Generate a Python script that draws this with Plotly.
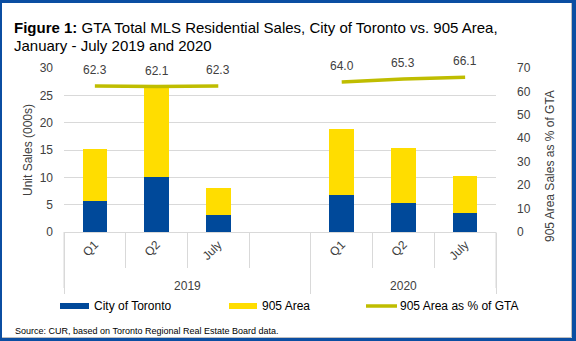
import plotly.graph_objects as go

# Reporting periods, grouped by year (blank slot separates the two years)
years = ["2019", "2019", "2019", "2019", "2020", "2020", "2020"]
periods = ["Q1", "Q2", "July", " ", "Q1", "Q2", "July"]

# Unit sales (000s)
toronto = [5.75, 10.0, 3.05, None, 6.8, 5.3, 3.5]
area_905 = [9.5, 16.4, 5.05, None, 12.1, 10.0, 6.8]

# 905 Area share of GTA sales (%)
share_905 = [62.3, 62.1, 62.3, None, 64.0, 65.3, 66.1]

NAVY = "#00499A"
GOLD = "#FFDD00"
OLIVE = "#BFBD00"
FRAME = "#0B4EA2"
GRID = "#D9D9D9"
TXT = "#404040"
FONT = "Liberation Sans, Arial, sans-serif"

W, H = 576, 341
ML, MR, MT, MB = 64, 80, 68, 109
PW, PH = W - ML - MR, H - MT - MB


def px_x(px):
    return (px - ML) / PW


def px_y(py):
    return (H - MB - py) / PH


x = [years, periods]

fig = go.Figure()
fig.add_trace(go.Bar(x=x, y=toronto, name="City of Toronto",
                     marker=dict(color=NAVY, line=dict(width=0))))
fig.add_trace(go.Bar(x=x, y=area_905, name="905 Area",
                     marker=dict(color=GOLD, line=dict(width=0))))
fig.add_trace(go.Scatter(x=x, y=share_905, name="905 Area as % of GTA",
                         yaxis="y2", mode="lines", connectgaps=False,
                         line=dict(color=OLIVE, width=3.5, shape="linear")))

annotations = []
for yr, p, v in zip(years, periods, share_905):
    if v is None:
        continue
    annotations.append(dict(x=[yr, p], y=v, xref="x", yref="y2",
                            text=f"{v:.1f}", showarrow=False, yshift=16,
                            xanchor="center", yanchor="middle",
                            font=dict(size=12, color=TXT, family=FONT)))

# Title, two lines
title_lines = [
    ("<b>Figure 1:</b> GTA Total MLS Residential Sales, City of Toronto vs. 905 Area,", 27.5),
    ("January - July 2019 and 2020", 45),
]
for txt, ty in title_lines:
    annotations.append(dict(
        x=px_x(12), y=px_y(ty), xref="paper", yref="paper",
        xanchor="left", yanchor="middle", align="left", showarrow=False,
        text=txt, font=dict(size=15, color="#000000", family=FONT)))

# Right axis title
annotations.append(dict(
    x=px_x(550), y=px_y(166), xref="paper", yref="paper", textangle=-90,
    xanchor="center", yanchor="middle",
    showarrow=False, text="905 Area Sales as % of GTA",
    font=dict(size=12, color=TXT, family=FONT)))

# Source note
annotations.append(dict(
    x=px_x(13), y=px_y(331), xref="paper", yref="paper",
    xanchor="left", yanchor="middle", showarrow=False,
    text="Source: CUR, based on Toronto Regional Real Estate Board data.",
    font=dict(size=9, color="#000000", family="Liberation Sans Narrow, Arial Narrow, sans-serif")))

# Legend built from swatches and labels
shapes = []
legend_items = [
    ("City of Toronto", NAVY, 60, 89, 92, "bar"),
    ("905 Area", GOLD, 229, 257, 260, "bar"),
    ("905 Area as % of GTA", OLIVE, 366, 397, 398, "line"),
]
LEG_Y = 306
for label, color, x0, x1, tx, kind in legend_items:
    if kind == "bar":
        shapes.append(dict(type="rect", xref="paper", yref="paper",
                           x0=px_x(x0), x1=px_x(x1), y0=px_y(LEG_Y + 3), y1=px_y(LEG_Y - 3),
                           fillcolor=color, line=dict(width=0)))
    else:
        shapes.append(dict(type="line", xref="paper", yref="paper",
                           x0=px_x(x0), x1=px_x(x1), y0=px_y(LEG_Y), y1=px_y(LEG_Y),
                           line=dict(color=color, width=3.5)))
    annotations.append(dict(x=px_x(tx), y=px_y(LEG_Y), xref="paper", yref="paper",
                            xanchor="left", yanchor="middle", showarrow=False, text=label,
                            font=dict(size=12, color="#000000", family=FONT)))

# Outer group dividers at the axis ends
for edge in (0, 1):
    shapes.append(dict(type="line", xref="paper", yref="paper",
                       x0=edge, x1=edge, y0=px_y(232), y1=px_y(288),
                       line=dict(color=GRID, width=1)))

# Outer frame: thin grey inner edge plus blue band
shapes.append(dict(type="line", xref="paper", yref="paper",
                   x0=px_x(571.5), x1=px_x(571.5), y0=px_y(3), y1=px_y(337.5),
                   line=dict(color="#BFBFBF", width=1)))
shapes.append(dict(type="line", xref="paper", yref="paper",
                   x0=px_x(2), x1=px_x(571.5), y0=px_y(337.5), y1=px_y(337.5),
                   line=dict(color="#BFBFBF", width=1)))
for bx0, by0, bx1, by1 in [(0, 0, 2, H), (0, 0, W, 3), (572, 0, W, H), (0, 338, W, H)]:
    shapes.append(dict(type="rect", xref="paper", yref="paper",
                       x0=px_x(bx0), x1=px_x(bx1), y0=px_y(by1), y1=px_y(by0),
                       fillcolor=FRAME, line=dict(width=0)))

fig.update_layout(
    width=W, height=H,
    margin=dict(l=ML, r=MR, t=MT, b=MB, pad=0),
    paper_bgcolor="white", plot_bgcolor="white",
    barmode="stack", bargap=0.6,
    showlegend=False,
    font=dict(family=FONT, size=12, color=TXT),
    annotations=annotations, shapes=shapes,
    xaxis=dict(type="multicategory", showline=True, linecolor=GRID, linewidth=1,
               ticks="outside", tickson="boundaries", ticklen=35, tickcolor=GRID,
               tickangle=-45, showdividers=True, dividercolor=GRID, dividerwidth=1,
               showgrid=False, tickfont=dict(size=12, color=TXT, family=FONT)),
    yaxis=dict(range=[0, 30], dtick=5, showgrid=True, gridcolor=GRID, gridwidth=1,
               zeroline=False, showline=False, ticks="", ticklabelstandoff=10,
               title=dict(text="Unit Sales (000s)", standoff=4,
                          font=dict(size=12, color=TXT, family=FONT)),
               tickfont=dict(size=12, color=TXT, family=FONT)),
    yaxis2=dict(range=[0, 70], dtick=10, overlaying="y", side="right",
                showgrid=False, zeroline=False, showline=False, ticks="",
                ticklabelstandoff=20,
                tickfont=dict(size=12, color=TXT, family=FONT)),
)

fig.write_html("out.html")
